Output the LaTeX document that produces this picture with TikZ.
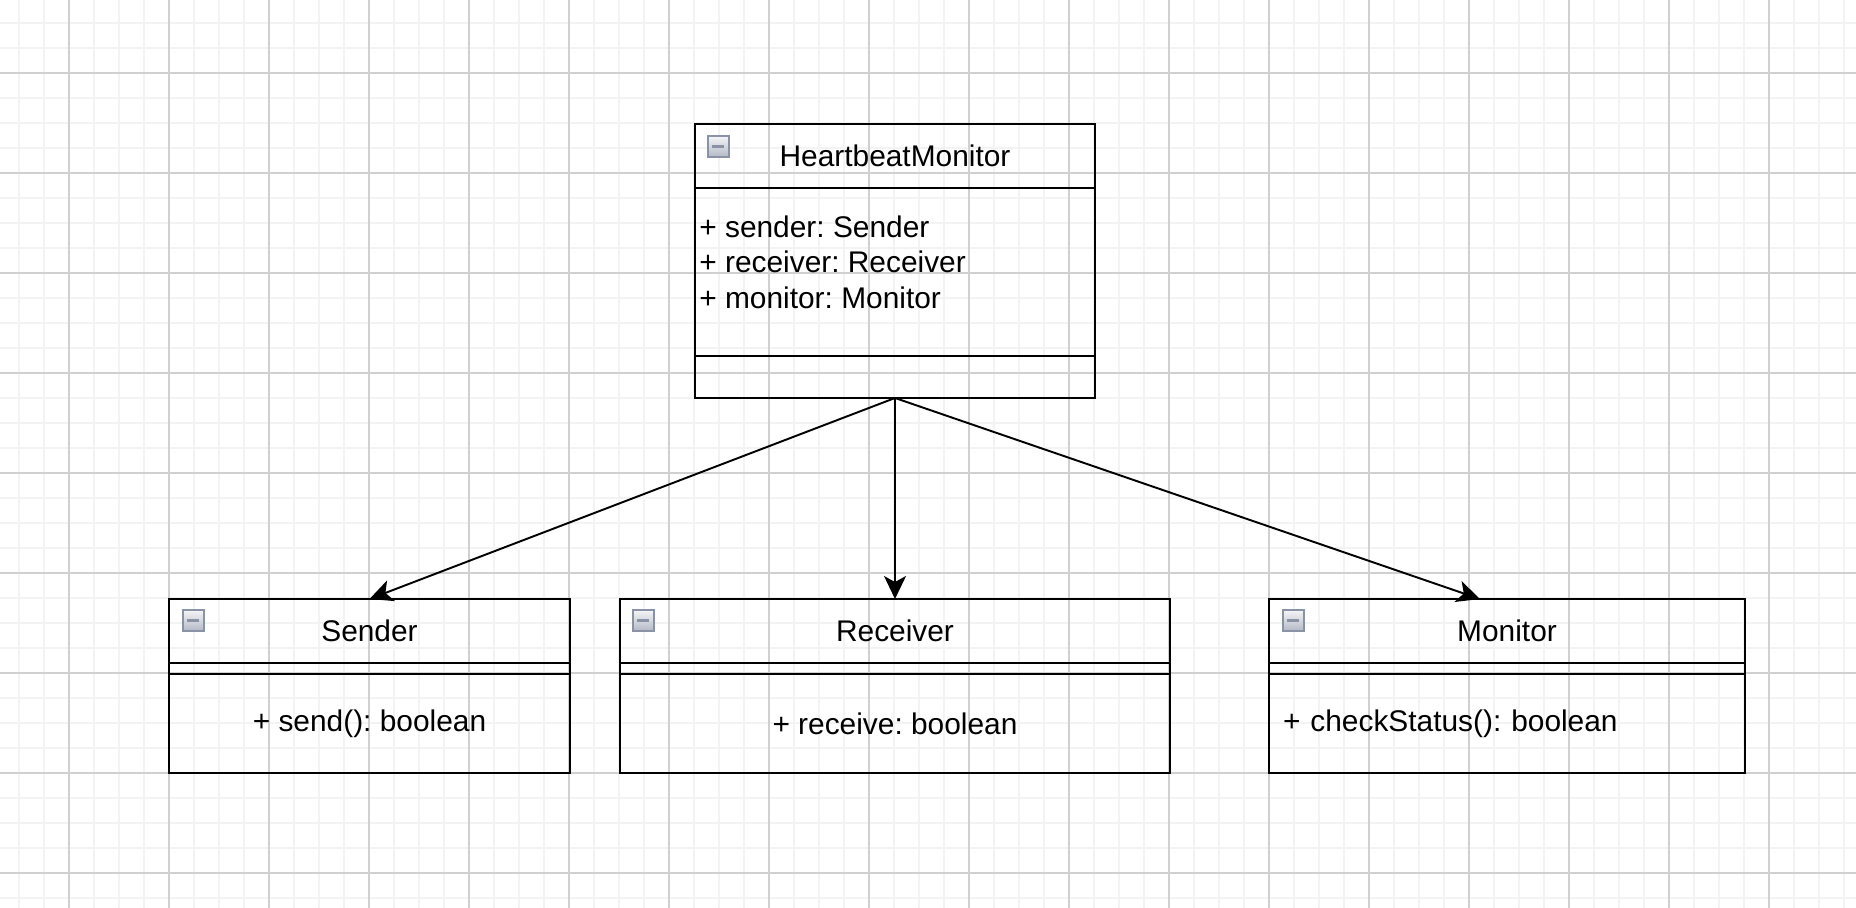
\documentclass[tikz,border=0pt]{standalone}
\usepackage{fontspec}
\setmainfont{Liberation Sans}
\usepackage{tikz}
\usetikzlibrary{arrows.meta, positioning, calc}
\definecolor{gridminor}{HTML}{F3F3F3}
\definecolor{gridmajor}{HTML}{D0D0D0}
\definecolor{btnedge}{HTML}{8A92A6}
\definecolor{btntop}{HTML}{F5F5F7}
\definecolor{btnbottom}{HTML}{B4B9C6}
\frenchspacing

\begin{document}
\begin{tikzpicture}[
  uml/.style={font=\fontsize{17}{20.2}\selectfont},
  classhead/.style={draw, line width=1.1pt, outer sep=0pt, minimum height=1.28cm, uml},
  compartment/.style={draw, line width=1.1pt, outer sep=0pt, inner sep=0pt, uml},
  btn/.style={draw=btnedge, line width=1pt, top color=btntop, bottom color=btnbottom, minimum size=0.42cm, inner sep=0pt, anchor=north west,
    path picture={\draw[line width=1.8pt] ([xshift=-0.12cm]path picture bounding box.center) -- ([xshift=0.12cm]path picture bounding box.center);}},
  arr/.style={-{Stealth[length=0.46cm, width=0.44cm, inset=0.12cm]}, line width=1.1pt},
]
\useasboundingbox (0,0) rectangle (37.12,-18.16);

% Grid
\begin{scope}[shift={(1.38,-1.46)}]
\draw[gridminor, line width=0.9pt, step=0.5] (-1.38,-16.7) grid (35.74,1.46);
\draw[gridmajor, line width=0.6pt, step=2] (-1.38,-16.7) grid (35.74,1.46);
\end{scope}

% HeartbeatMonitor class
\node[classhead, minimum width=8cm] (hm-head) at (17.9,-3.12) {HeartbeatMonitor};
\node[compartment, minimum width=8cm, minimum height=3.36cm, below=0pt of hm-head] (hm-attr) {};
\node[compartment, minimum width=8cm, minimum height=0.84cm, below=0pt of hm-attr] (hm-ops) {};
\node[btn] (hm-btn) at ($(hm-head.north west)+(0.24,-0.22)$) {};
\node[uml, align=left, anchor=north west, inner sep=0pt] (hm-fields) at ($(hm-attr.north west)+(0.08,-0.55)$) {+ sender: Sender\\+ receiver: Receiver\\+ monitor: Monitor};

% Sender class
\node[classhead, minimum width=8.02cm] (snd-head) at (7.39,-12.62) {Sender};
\node[compartment, minimum width=8.02cm, minimum height=0.22cm, below=0pt of snd-head] (snd-attr) {};
\node[compartment, minimum width=8.02cm, minimum height=1.98cm, below=0pt of snd-attr] (snd-ops) {+ send(): boolean};
\node[btn] (snd-btn) at ($(snd-head.north west)+(0.26,-0.2)$) {};

% Receiver class
\node[classhead, minimum width=11cm] (rcv-head) at (17.9,-12.62) {Receiver};
\node[compartment, minimum width=11cm, minimum height=0.22cm, below=0pt of rcv-head] (rcv-attr) {};
\node[compartment, minimum width=11cm, minimum height=1.98cm, below=0pt of rcv-attr] (rcv-ops) {+ receive: boolean};
\node[btn] (rcv-btn) at ($(rcv-head.north west)+(0.24,-0.2)$) {};

% Monitor class
\node[classhead, minimum width=9.52cm] (mon-head) at (30.14,-12.62) {Monitor};
\node[compartment, minimum width=9.52cm, minimum height=0.22cm, below=0pt of mon-head] (mon-attr) {};
\node[compartment, minimum width=9.52cm, minimum height=1.98cm, text width=8.96cm, align=left, below=0pt of mon-attr] (mon-ops) {+ checkStatus(): boolean\\[0.12cm]};
\node[btn] (mon-btn) at ($(mon-head.north west)+(0.26,-0.2)$) {};

% Arrows
\coordinate (mon-in) at ($(mon-head.north west)!0.443!(mon-head.north east)$);
\draw[arr] (hm-ops.south) -- (snd-head.north);
\draw[arr] (hm-ops.south) -- (rcv-head.north);
\draw[arr] (hm-ops.south) -- (mon-in);

\end{tikzpicture}
\end{document}
